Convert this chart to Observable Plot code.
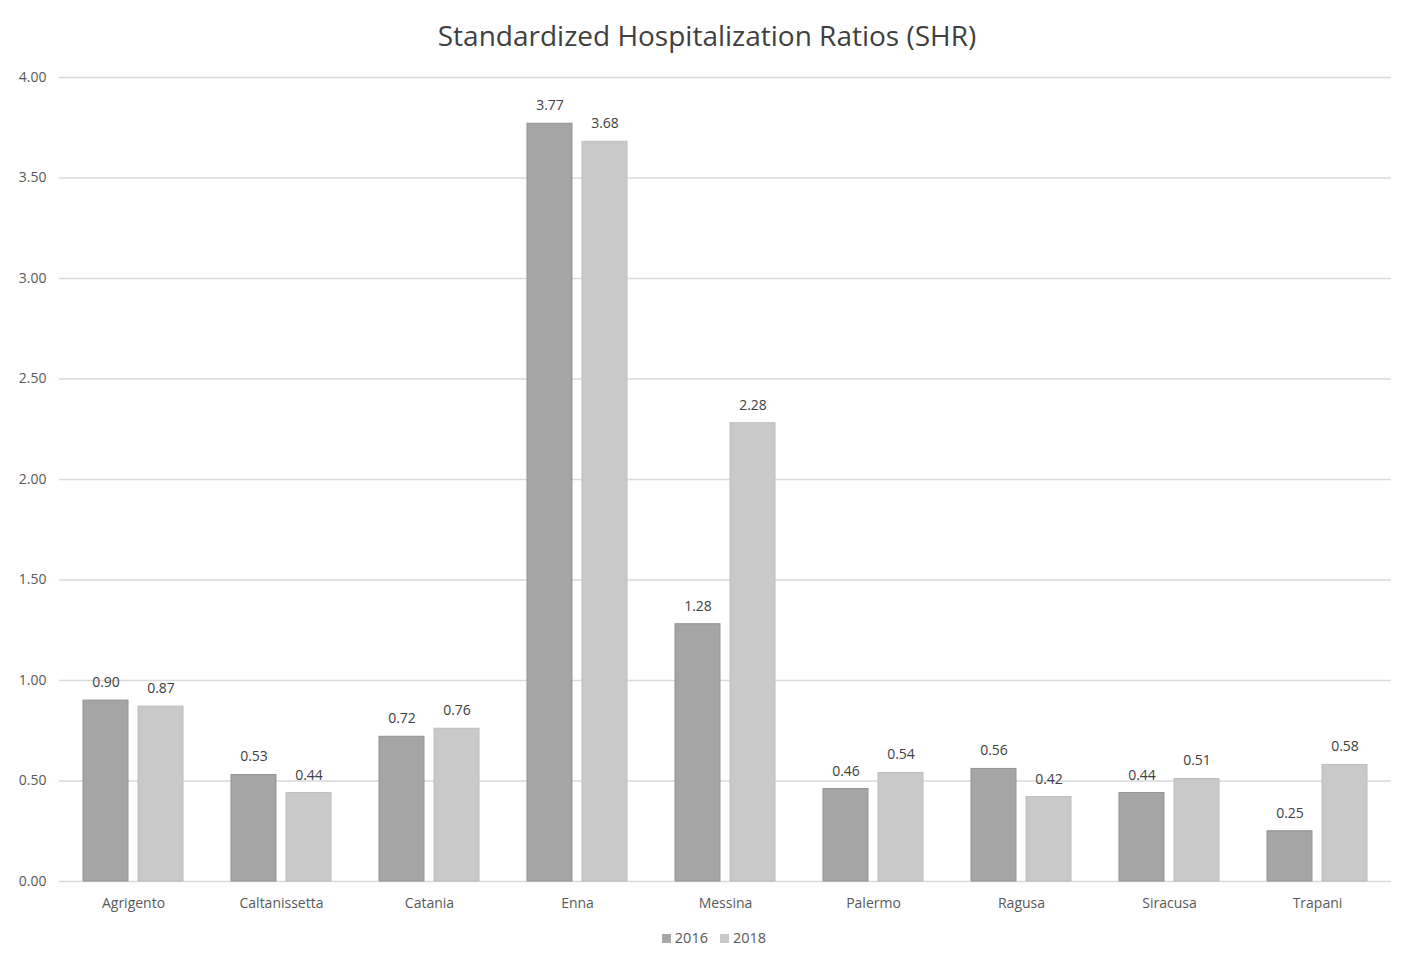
<!DOCTYPE html>
<html>
<head>
<meta charset="utf-8">
<script src="https://cdn.jsdelivr.net/npm/d3@7"></script>
<script src="https://cdn.jsdelivr.net/npm/@observablehq/plot@0.6"></script>
<style>
  body { margin: 0; background: #fff; font-family: "Open Sans", sans-serif; }
  #title { height: 62px; line-height: 70px; text-align: center; font-size: 28px; color: #404040; }
  #legend { text-align: center; font-size: 14.5px; color: #595959; margin-top: 8px; padding-left: 14px; }
  #legend span.sw { display: inline-block; width: 9px; height: 9px; margin-right: 4px; vertical-align: 0px; }
  #legend span.item { margin: 0 6px; }
</style>
</head>
<body>
<div id="title">Standardized Hospitalization Ratios (SHR)</div>
<div id="chart"></div>
<div id="legend"></div>
<script>
const provinces = ["Agrigento","Caltanissetta","Catania","Enna","Messina","Palermo","Ragusa","Siracusa","Trapani"];
const years = ["2016","2018"];
const values2016 = [0.90,0.53,0.72,3.77,1.28,0.46,0.56,0.44,0.25];
const values2018 = [0.87,0.44,0.76,3.68,2.28,0.54,0.42,0.51,0.58];
const yTicks = [0,0.5,1,1.5,2,2.5,3,3.5,4];
const colors = ["#a5a5a5","#c9c9c9"];

const data = [];
provinces.forEach((p, i) => {
  data.push({province: p, year: years[0], value: values2016[i]});
  data.push({province: p, year: years[1], value: values2018[i]});
});

const chart = Plot.plot({
  width: 1414,
  height: 858,
  marginLeft: 56,
  marginRight: 20,
  marginTop: 15,
  marginBottom: 39,
  style: {fontFamily: "Open Sans, sans-serif", fontSize: "14px", color: "#595959"},
  fx: {domain: provinces, padding: 0, label: null, axis: "bottom", tickSize: 0, tickPadding: 17},
  x: {domain: years, axis: null, paddingInner: 0.18, paddingOuter: 0.43},
  y: {domain: [0, 4], ticks: yTicks, tickFormat: d => d.toFixed(2), label: null, tickSize: 0, tickPadding: 13},
  color: {domain: years, range: colors},
  marks: [
    Plot.ruleY(yTicks, {stroke: "#d9d9d9", strokeWidth: 1.3}),
    Plot.barY(data, {fx: "province", x: "year", y: "value", fill: "year",
      stroke: d => d.year === "2016" ? "#929292" : "#bdbdbd", strokeWidth: 1}),
    Plot.text(data, {fx: "province", x: "year", y: "value", text: d => d.value.toFixed(2),
      dy: -18, fill: "#404040", fontSize: 14})
  ]
});
document.getElementById("chart").appendChild(chart);

const legend = document.getElementById("legend");
years.forEach((y, i) => {
  const item = document.createElement("span");
  item.className = "item";
  item.innerHTML = `<span class="sw" style="background:${colors[i]}"></span>${y}`;
  legend.appendChild(item);
});
</script>
</body>
</html>
